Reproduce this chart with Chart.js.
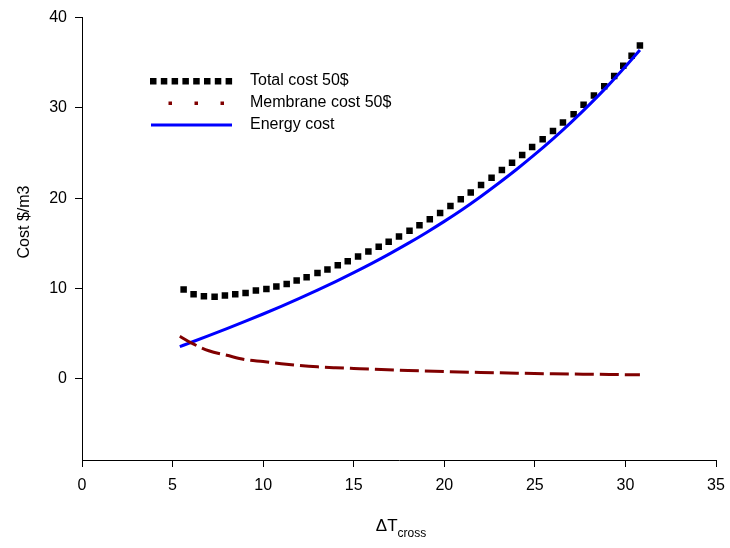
<!DOCTYPE html>
<html>
<head>
<meta charset="utf-8">
<script src="https://cdn.jsdelivr.net/npm/chart.js@4.4.0/dist/chart.umd.min.js"></script>
<style>
  body { margin: 0; background: #fff; }
  canvas { display: block; }
</style>
</head>
<body>
<canvas id="costChart" width="730" height="548"></canvas>
<script>
// total cost (symbols)
const totalX = [5.61, 6.16, 6.73, 7.32, 7.89, 8.46, 9.03, 9.6, 10.18, 10.73, 11.3, 11.85, 12.4, 13.0, 13.55,
  14.12, 14.67, 15.24, 15.81, 16.38, 16.93, 17.5, 18.08, 18.63, 19.2, 19.77, 20.34, 20.91, 21.46, 22.03,
  22.61, 23.18, 23.74, 24.3, 24.85, 25.43, 26.0, 26.55, 27.14, 27.69, 28.26, 28.83, 29.38, 29.88, 30.34, 30.8];
const totalCost = [9.88, 9.37, 9.15, 9.07, 9.22, 9.37, 9.51, 9.77, 9.95, 10.21, 10.5, 10.87, 11.24, 11.71, 12.09,
  12.56, 13.02, 13.55, 14.1, 14.62, 15.17, 15.76, 16.39, 17.0, 17.66, 18.37, 19.14, 19.87, 20.64, 21.45,
  22.27, 23.11, 23.91, 24.79, 25.67, 26.52, 27.44, 28.37, 29.3, 30.34, 31.37, 32.4, 33.53, 34.68, 35.78, 36.91];

// membrane cost (dashed)
const membraneX = [5.4, 6, 7, 8, 9, 10, 11, 12, 13, 14, 15, 16, 18, 20, 22, 24, 26, 28, 30, 30.8];
const membraneCost = [4.7, 4.0, 3.1, 2.6, 2.12, 1.9, 1.67, 1.47, 1.32, 1.22, 1.14, 1.06, 0.92, 0.8, 0.7, 0.62, 0.55, 0.5, 0.45, 0.43];

// energy cost (solid)
const energyX = [5.4, 6, 7, 8, 9, 10, 11, 12, 13, 14, 15, 16, 17, 18, 19, 20, 21, 22, 23, 24, 25, 26, 27, 28, 29, 30, 30.8];
const energyCost = [3.56, 4.01, 4.77, 5.55, 6.35, 7.17, 8.02, 8.9, 9.81, 10.76, 11.75, 12.78, 13.86, 14.99, 16.18,
  17.43, 18.75, 20.16, 21.65, 23.2, 24.84, 26.57, 28.4, 30.33, 32.38, 34.58, 36.42];

const xTicks = [0, 5, 10, 15, 20, 25, 30, 35];
const yTicks = [0, 10, 20, 30, 40];

const legendItems = ['Total cost 50$', 'Membrane cost 50$', 'Energy cost'];

const FONT = "'Liberation Sans', Arial, sans-serif";

function pts(xs, ys) {
  return xs.map((x, i) => ({ x: x, y: ys[i] }));
}

// legend and axis titles drawn by hand (subscript + fixed spot inside the plot)
const decorations = {
  id: 'decorations',
  afterDraw(chart) {
    const ctx = chart.ctx;
    ctx.save();
    ctx.fillStyle = '#000';
    ctx.textBaseline = 'middle';
    ctx.font = '16px ' + FONT;

    const rows = [81, 103, 125];
    // total: row of squares
    for (let i = 0; i < 8; i++) {
      ctx.fillStyle = '#000';
      ctx.fillRect(150 + i * 10.8, rows[0] - 3, 6.5, 6.5);
    }
    // membrane: sparse dots
    ctx.fillStyle = '#800000';
    [170, 196, 222].forEach(x => ctx.fillRect(x - 1.5, rows[1] - 1.5, 3.5, 3.5));
    // energy: solid line
    ctx.strokeStyle = '#0000ff';
    ctx.lineWidth = 3;
    ctx.beginPath();
    ctx.moveTo(151, rows[2]);
    ctx.lineTo(232, rows[2]);
    ctx.stroke();

    ctx.fillStyle = '#000';
    ctx.textAlign = 'left';
    legendItems.forEach((t, i) => ctx.fillText(t, 250, rows[i]));

    // y title
    ctx.save();
    ctx.translate(25, 222);
    ctx.rotate(-Math.PI / 2);
    ctx.textAlign = 'center';
    ctx.fillText('Cost $/m3', 0, 0);
    ctx.restore();

    // x title: ΔT with subscript
    ctx.textBaseline = 'alphabetic';
    ctx.font = '17px ' + FONT;
    const main = 'ΔT';
    const mw = ctx.measureText(main).width;
    ctx.font = '12px ' + FONT;
    const sub = 'cross';
    const sw = ctx.measureText(sub).width;
    const x0 = 401 - (mw + sw) / 2;
    ctx.font = '17px ' + FONT;
    ctx.fillText(main, x0, 531);
    ctx.font = '12px ' + FONT;
    ctx.fillText(sub, x0 + mw, 537);
    ctx.restore();
  }
};

const ctx = document.getElementById('costChart').getContext('2d');
const chart = new Chart(ctx, {
  type: 'scatter',
  data: {
    datasets: [
      {
        label: legendItems[1],
        data: pts(membraneX, membraneCost),
        showLine: true,
        borderColor: '#800000',
        borderWidth: 3,
        borderDash: [19, 6],
        pointRadius: 0,
        cubicInterpolationMode: 'monotone'
      },
      {
        label: legendItems[2],
        data: pts(energyX, energyCost),
        showLine: true,
        borderColor: '#0000ff',
        borderWidth: 3,
        pointRadius: 0,
        cubicInterpolationMode: 'monotone'
      },
      {
        label: legendItems[0],
        data: pts(totalX, totalCost),
        showLine: false,
        pointStyle: 'rect',
        pointRadius: 4.6,
        pointBorderWidth: 0,
        backgroundColor: '#000',
        borderColor: '#000'
      }
    ]
  },
  options: {
    responsive: false,
    animation: false,
    layout: { padding: { top: 16, right: 14, left: 0, bottom: 0 } },
    plugins: {
      legend: { display: false },
      tooltip: { enabled: false }
    },
    scales: {
      x: {
        type: 'linear',
        min: 0,
        max: 35,
        afterBuildTicks: axis => { axis.ticks = xTicks.map(v => ({ value: v })); },
        afterFit: scale => {
          scale.height = 88;
          scale.paddingLeft = 0;
          scale.paddingRight = 0;
        },
        grid: { drawOnChartArea: false, tickLength: 7, tickColor: '#000' },
        border: { color: '#000', width: 1 },
        ticks: { color: '#000', padding: 9, font: { family: FONT, size: 16 }, maxRotation: 0 }
      },
      y: {
        type: 'linear',
        min: -9,
        max: 40,
        afterBuildTicks: axis => { axis.ticks = yTicks.map(v => ({ value: v })); },
        afterFit: scale => { scale.width = 82; },
        grid: { drawOnChartArea: false, tickLength: 7, tickColor: '#000' },
        border: { color: '#000', width: 1 },
        ticks: { color: '#000', padding: 8, font: { family: FONT, size: 16 } }
      }
    }
  },
  plugins: [decorations]
});
</script>
</body>
</html>
